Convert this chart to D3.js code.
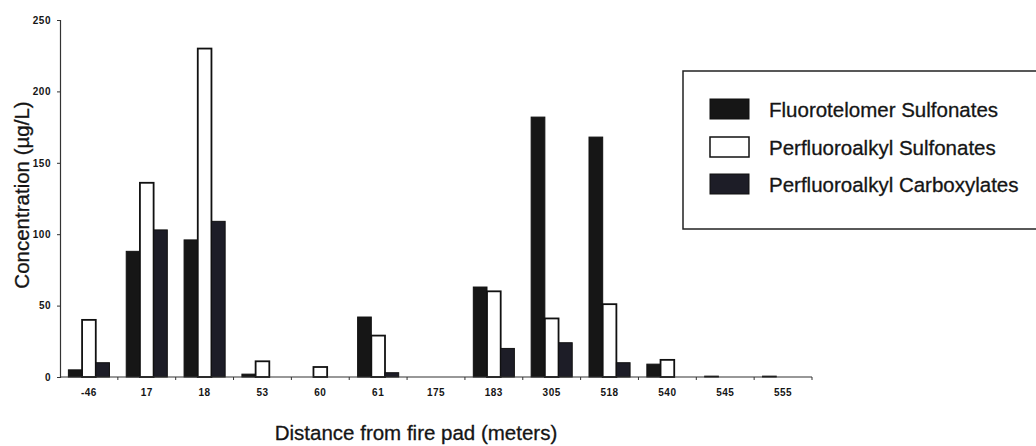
<!DOCTYPE html>
<html>
<head>
<meta charset="utf-8">
<script src="https://cdn.jsdelivr.net/npm/d3@7"></script>
<style>
  body { margin: 0; background: #fff; }
  text { font-family: "Liberation Sans", Arial, sans-serif; fill: #151515; }
</style>
</head>
<body>
<svg id="chart" width="1036" height="446"></svg>
<script>
// distances (categories) and the three series
var distances = ["-46", "17", "18", "53", "60", "61", "175", "183", "305", "518", "540", "545", "555"];
var seriesNames = ["Fluorotelomer Sulfonates", "Perfluoroalkyl Sulfonates", "Perfluoroalkyl Carboxylates"];
var fluorotelomerSulfonates = [5, 88, 96, 2, 0, 42, 0, 63, 182, 168, 9, 0.6, 0.6];
var perfluoroalkylSulfonates = [40, 136, 230, 11, 7, 29, 0, 60, 41, 51, 12, 0, 0];
var perfluoroalkylCarboxylates = [10, 103, 109, 0, 0, 3, 0, 20, 24, 10, 0, 0, 0];
var yTicks = [0, 50, 100, 150, 200, 250];
var fills = ["#161616", "#ffffff", "#1d1d27"];

var svg = d3.select("#chart");

var x = d3.scaleBand()
    .domain(distances)
    .range([60, 812])
    .paddingInner(0)
    .paddingOuter(0);

var y = d3.scaleLinear()
    .domain([0, 250])
    .range([377, 20]);

var xSub = d3.scaleBand()
    .domain(seriesNames)
    .range([x.bandwidth() * 0.145, x.bandwidth() * 0.855])
    .padding(0);

var allSeries = [fluorotelomerSulfonates, perfluoroalkylSulfonates, perfluoroalkylCarboxylates];

// bars
allSeries.forEach(function (vals, si) {
    var pts = vals.map(function (v, i) { return {dist: distances[i], value: v}; })
        .filter(function (d) { return d.value > 0; });
    svg.append("g")
        .selectAll("rect")
        .data(pts)
        .enter().append("rect")
        .attr("x", function (d) { return x(d.dist) + xSub(seriesNames[si]); })
        .attr("y", function (d) { return y(d.value); })
        .attr("width", xSub.bandwidth())
        .attr("height", function (d) { return y(0) - y(d.value); })
        .attr("fill", fills[si])
        .attr("stroke", "#111")
        .attr("stroke-width", si == 1 ? 1.8 : 1);
});

// y axis
var yAxis = svg.append("g")
    .attr("transform", "translate(60,0)")
    .call(d3.axisLeft(y).tickValues(yTicks).tickSize(3).tickPadding(6));
yAxis.select(".domain").attr("stroke", "#333").attr("stroke-width", 1.2);
yAxis.selectAll(".tick line").attr("stroke", "#333");
yAxis.selectAll("text")
    .style("font-size", "10px")
    .style("font-weight", "bold")
    .style("letter-spacing", "0.5px")
    .style("font-family", "Arial, 'Liberation Sans', sans-serif")
    .attr("fill", "#1a1a1a");

// x axis: line with ticks on band boundaries
svg.append("line")
    .attr("x1", 60).attr("x2", 812)
    .attr("y1", y(0)).attr("y2", y(0))
    .attr("stroke", "#333").attr("stroke-width", 1.2);

svg.append("g")
    .selectAll("line")
    .data(distances)
    .enter().append("line")
    .attr("x1", function (d) { return x(d) + x.bandwidth(); })
    .attr("x2", function (d) { return x(d) + x.bandwidth(); })
    .attr("y1", y(0)).attr("y2", y(0) + 3)
    .attr("stroke", "#333");

svg.append("g")
    .selectAll("text")
    .data(distances)
    .enter().append("text")
    .attr("x", function (d) { return x(d) + x.bandwidth() / 2; })
    .attr("y", 396)
    .attr("text-anchor", "middle")
    .style("font-size", "10px")
    .style("font-weight", "bold")
    .style("letter-spacing", "0.5px")
    .text(function (d) { return d; });

// axis titles
svg.append("text")
    .attr("x", 416)
    .attr("y", 440)
    .attr("text-anchor", "middle")
    .style("font-size", "20.5px")
    .style("stroke", "#151515").style("stroke-width", 0.3)
    .text("Distance from fire pad (meters)");

svg.append("text")
    .attr("transform", "translate(29,195) rotate(-90)")
    .attr("text-anchor", "middle")
    .style("font-size", "20.5px")
    .style("stroke", "#151515").style("stroke-width", 0.3)
    .text("Concentration (\u00b5g/L)");

// legend
var legend = svg.append("g");
legend.append("rect")
    .attr("x", 683).attr("y", 71)
    .attr("width", 370).attr("height", 158)
    .attr("fill", "none")
    .attr("stroke", "#222")
    .attr("stroke-width", 1.5);

var legendRows = [109, 147, 184];
seriesNames.forEach(function (name, i) {
    legend.append("rect")
        .attr("x", 710).attr("y", legendRows[i] - 10)
        .attr("width", 39).attr("height", 20)
        .attr("fill", fills[i])
        .attr("stroke", "#111")
        .attr("stroke-width", i == 1 ? 1.5 : 1);
    legend.append("text")
        .attr("x", 769)
        .attr("y", legendRows[i] + 8)
        .style("font-size", "20.5px")
        .style("stroke", "#151515").style("stroke-width", 0.3)
        .text(name);
});
</script>
</body>
</html>
